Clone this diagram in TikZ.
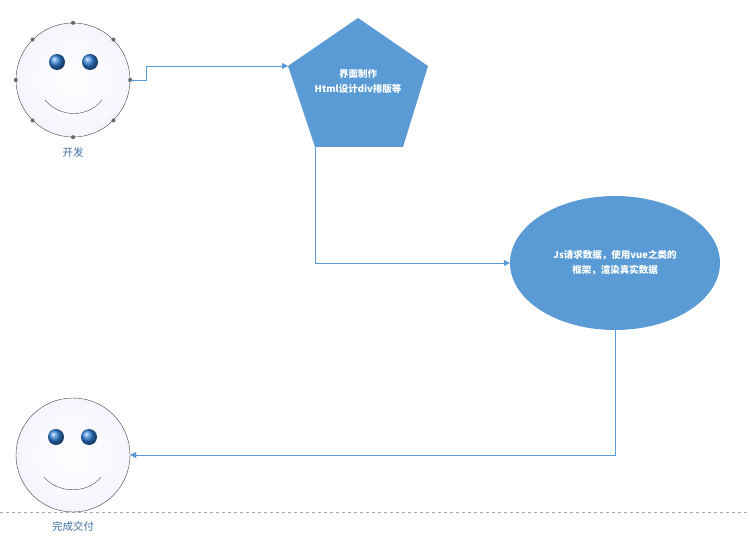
\documentclass[tikz,border=0pt]{standalone}
\usepackage{fontspec}
\setmainfont{Noto Sans CJK SC}
\usetikzlibrary{shapes.geometric,arrows.meta}
\definecolor{flowblue}{HTML}{5B9BD5}
\definecolor{eyeblue}{HTML}{2F7FD8}
\definecolor{labelblue}{HTML}{3E6E9E}
\tikzset{
  face/.style={circle,draw=black!75,thin,minimum size=114pt,inner sep=0pt,shade,inner color=white,outer color=blue!4},
  eye/.style={circle,minimum size=16pt,inner sep=0pt,shade,ball color=eyeblue},
  handle/.style={circle,fill=black!60,minimum size=4pt,inner sep=0pt},
  flow/.style={draw=flowblue,-{Triangle[length=6pt,width=6pt]}},
  step shape/.style={fill=flowblue,text=white,font=\fontsize{9.5}{15}\selectfont\bfseries,align=center},
  caption/.style={text=labelblue,font=\fontsize{10.5}{12}\selectfont}
}
\begin{document}
\begin{tikzpicture}[x=1pt,y=-1pt]
            \useasboundingbox (0,0) rectangle (750,540);
            \draw[gray!70,dashed] (0,512) -- (750,512);

            % start face
            \node[face] (dev) at (73,80) {};
            \node[eye] at (57,62) {};
            \node[eye] at (90,62) {};
            \draw[black!70] (45,100) .. controls (60,118) and (88,118) .. (102,100);
            \foreach \a in {0,45,...,315}
              \node[handle] at (dev.\a) {};
            \node[caption] (devlbl) at (73,153) {开发};

            % steps
            \fill[flowblue] (358,18) -- (428,66) -- (403,147) -- (315,147) -- (288,66) -- cycle;
            \coordinate (ui) at (288,66);
            \coordinate (uibot) at (315,147);
            \node[step shape,fill=none] (uitxt) at (358,81) {界面制作\\Html设计div排版等};

            \node[ellipse,step shape,minimum width=210pt,minimum height=134pt] (js) at (615,263) {Js请求数据，使用vue之类的\\框架，渲染真实数据};

            % end face
            \node[face] (done) at (73,455) {};
            \node[eye] at (56,437) {};
            \node[eye] at (89,437) {};
            \draw[black!70] (44,477) .. controls (58,494) and (88,494) .. (101,477);
            \node[caption] (donelbl) at (73,526) {完成交付};

            \draw[flow] (dev.east) -- ++(16,0) |- (ui);
            \draw[flow] (uibot) |- (js.west);
            \draw[flow] (js.south) |- (done.east);
\end{tikzpicture}
\end{document}
